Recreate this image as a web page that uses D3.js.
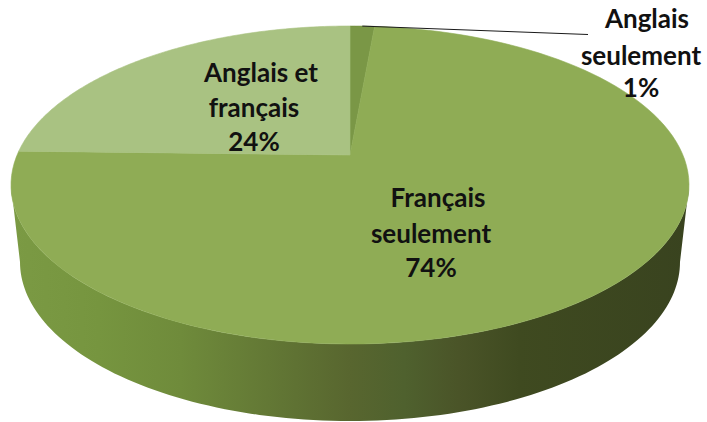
<!DOCTYPE html>
<html>
<head>
<meta charset="utf-8">
<script src="https://cdn.jsdelivr.net/npm/d3@7"></script>
<style>
  html, body { margin: 0; padding: 0; background: #fff; }
  text { font-family: Lato, "Open Sans", sans-serif; font-weight: 700; fill: #111; }
</style>
</head>
<body>
<div id="chart"></div>
<script>
// slice order is clockwise from 12 o'clock, shares estimated from the picture
var categories = ["Anglais seulement", "Français seulement", "Anglais et français"]
var shares = [1.4, 74.0, 24.6]
var percentLabels = ["1%", "74%", "24%"]
var labelLines = [["Anglais", "seulement"], ["Français", "seulement"], ["Anglais et", "français"]]
var faceColors = ["#7a9746", "#8fac55", "#a9c282"]
var sideStops = [
  [0, "#7b9a44"], [0.13, "#76953f"], [0.25, "#6f8b3b"], [0.42, "#5f7233"],
  [0.5, "#58662f"], [0.58, "#4f612e"], [0.66, "#4a5428"], [0.75, "#3f4a20"], [1, "#39431f"]
]

var width = 707
var height = 422

// the pie is tilted in perspective: the hub is above the middle of the ellipse
var cx = 350, hubY = 155, topY = 26, bottomY = 344
var persp = (2 * hubY - topY - bottomY) / (bottomY - topY)
var bend = bottomY * (1 + persp) - hubY
var spread = 339 * Math.sqrt(1 - persp * persp)
var depth = 77, shrink = 330 / 339

function project(a) {
  var u = Math.sin(a), v = -Math.cos(a), w = 1 + persp * v
  return [cx + spread * u / w, (hubY + bend * v) / w]
}
function lower(p) {
  return [cx + (p[0] - cx) * shrink, p[1] + depth]
}

var pie = d3.pie().sort(null).value(function(d) { return d })
var arcs = pie(shares)

function sweep(a0, a1) {
  return d3.range(0, 121).map(function(i) {
    return a0 + (a1 - a0) * i / 120
  })
}

var svg = d3.select("#chart").append("svg")
  .attr("width", width)
  .attr("height", height)
  .style("display", "block")

var grad = svg.append("defs").append("linearGradient")
  .attr("id", "side")
  .attr("gradientUnits", "userSpaceOnUse")
  .attr("x1", 11).attr("x2", 689).attr("y1", 0).attr("y2", 0)
grad.selectAll("stop").data(sideStops).enter().append("stop")
  .attr("offset", function(d) { return d[0] })
  .attr("stop-color", function(d) { return d[1] })

var sideArea = d3.area()
  .x0(function(a) { return project(a)[0] })
  .y0(function(a) { return project(a)[1] })
  .x1(function(a) { return lower(project(a))[0] })
  .y1(function(a) { return lower(project(a))[1] })

// wall under the big slice, only between the two points where the rim is widest
var frontStart = Math.max(arcs[1].startAngle, Math.acos(persp))
var frontEnd = Math.min(arcs[1].endAngle, 2 * Math.PI - Math.acos(persp))
svg.append("path")
  .attr("d", sideArea(sweep(frontStart, frontEnd)))
  .attr("fill", "url(#side)")

var line = d3.line()

svg.selectAll("path.face")
  .data(arcs)
  .enter().append("path")
  .attr("class", "face")
  .attr("d", function(d) {
    return line([[cx, hubY]].concat(sweep(d.startAngle, d.endAngle).map(project))) + "Z"
  })
  .attr("fill", function(d, i) { return faceColors[i] })
  .attr("stroke", function(d, i) { return faceColors[i] })
  .attr("stroke-width", 0.6)

// leader line for the tiny slice
var leaderStart = project((arcs[0].startAngle + arcs[0].endAngle) / 2)
svg.append("line")
  .attr("x1", leaderStart[0]).attr("y1", leaderStart[1])
  .attr("x2", 588).attr("y2", 34.5)
  .attr("stroke", "#1a1a1a")
  .attr("stroke-width", 1)

var labelPos = [
  { x: [647, 641, 641], y: [28, 65, 97] },
  { x: [438, 431, 431], y: [207, 243, 277] },
  { x: [261, 254, 254], y: [82, 117, 151] }
]

categories.forEach(function(c, i) {
  var lines = labelLines[i].concat(percentLabels[i])
  svg.append("g").attr("class", "label")
    .selectAll("text")
    .data(lines)
    .enter().append("text")
    .attr("x", function(d, j) { return labelPos[i].x[j] })
    .attr("y", function(d, j) { return labelPos[i].y[j] })
    .attr("text-anchor", "middle")
    .style("font-size", "26px")
    .text(function(d) { return d })
})
</script>
</body>
</html>
